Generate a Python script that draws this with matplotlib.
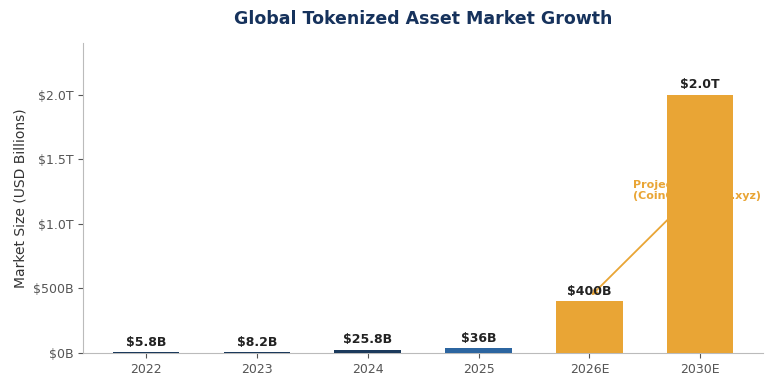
import matplotlib.pyplot as plt

# market size in USD billions
years = ["2022", "2023", "2024", "2025", "2026E", "2030E"]
values = [5.8, 8.2, 25.8, 36, 400, 2000]
labels = ["$5.8B", "$8.2B", "$25.8B", "$36B", "$400B", "$2.0T"]
colors = ["#1b3a5c", "#1b3a5c", "#1b3a5c", "#2c65a0", "#e9a535", "#e9a535"]
yticks = [0, 500, 1000, 1500, 2000]
ytick_labels = ["$0B", "$500B", "$1.0T", "$1.5T", "$2.0T"]

fig = plt.figure(figsize=(7.75, 3.87), dpi=100)
ax = fig.add_axes([0.107, 0.088, 0.878, 0.801])

x = range(len(years))
ax.bar(x, values, width=0.6, color=colors, zorder=3)

for i, v in enumerate(values):
    ax.text(i, v + 25, labels[i], ha="center", va="bottom",
            fontsize=9, fontweight="bold", color="#222222", zorder=4)

# projection note, drawn underneath the bars
ax.annotate("Projected\n(CoinGecko/rwa.xyz)", xy=(4, 430), xytext=(4.395, 1190),
            fontsize=8, fontweight="bold", color="#e9a535", zorder=2,
            arrowprops=dict(arrowstyle="->", color="#e9a535", lw=1.3))

ax.set_xticks(list(x))
ax.set_xticklabels(years)
ax.set_yticks(yticks)
ax.set_yticklabels(ytick_labels)
ax.set_xlim(-0.57, 5.57)
ax.set_ylim(0, 2400)
ax.tick_params(colors="#555555", labelsize=9)
ax.set_ylabel("Market Size (USD Billions)", fontsize=10, color="#333333")
ax.set_title("Global Tokenized Asset Market Growth", fontsize=12.5,
             fontweight="bold", color="#16325c", pad=14)

for s in ["top", "right"]:
    ax.spines[s].set_visible(False)
ax.spines["left"].set_color("#bbbbbb")
ax.spines["bottom"].set_color("#bbbbbb")

fig.savefig("out.png", dpi=100)
